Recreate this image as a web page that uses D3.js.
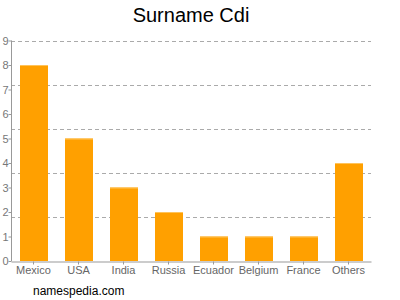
<!DOCTYPE html>
<html>
<head>
<meta charset="utf-8">
<script src="https://cdn.jsdelivr.net/npm/d3@7"></script>
<style>
  body { margin: 0; background: #fff; }
  svg { font-family: "Liberation Sans", Arial, sans-serif; }
</style>
</head>
<body>
<svg id="chart" width="400" height="300"></svg>
<script>
const countries = ["Mexico", "USA", "India", "Russia", "Ecuador", "Belgium", "France", "Others"];
const counts = [8, 5, 3, 2, 1, 1, 1, 4];
const yTicks = [0, 1, 2, 3, 4, 5, 6, 7, 8, 9];
const gridValues = [1.8, 3.6, 5.4, 7.2, 9];

const plotLeft = 11, plotRight = 371, plotTop = 40.5, plotBottom = 261;
const svg = d3.select("#chart");

const x = d3.scaleBand()
    .domain(countries)
    .range([plotLeft, plotRight])
    .paddingInner(0.38)
    .paddingOuter(0.19);

const y = d3.scaleLinear()
    .domain([0, 9])
    .range([plotBottom, plotTop]);

// dashed grid
svg.append("g")
    .selectAll("line")
    .data(gridValues)
    .join("line")
    .attr("x1", plotLeft)
    .attr("x2", plotRight)
    .attr("y1", d => Math.round(y(d)) + 0.5)
    .attr("y2", d => Math.round(y(d)) + 0.5)
    .attr("stroke", "#aaa")
    .attr("stroke-dasharray", "4,3");

// bars
const bars = svg.append("g")
    .selectAll("g")
    .data(countries)
    .join("g");

bars.append("rect")
    .attr("x", d => Math.round(x(d)))
    .attr("y", (d, i) => y(counts[i]))
    .attr("width", Math.round(x.bandwidth()))
    .attr("height", (d, i) => plotBottom - y(counts[i]))
    .attr("fill", "#ffa000");

bars.append("rect")
    .attr("x", d => Math.round(x(d)))
    .attr("y", (d, i) => y(counts[i]))
    .attr("width", Math.round(x.bandwidth()))
    .attr("height", 1)
    .attr("fill", "#ffc35a");

// y axis
const yAxis = svg.append("g")
    .attr("transform", `translate(${plotLeft + 0.5},0)`)
    .call(d3.axisLeft(y).tickValues(yTicks).tickSize(3).tickFormat(d3.format("d")));
yAxis.select(".domain").attr("stroke", "#999").attr("d", `M0,${plotTop}V${plotBottom}`);
yAxis.selectAll(".tick line").attr("stroke", "#999");
yAxis.selectAll(".tick text")
    .attr("x", -3)
    .attr("fill", "#777")
    .attr("font-size", 11)
    .attr("font-family", "Liberation Sans, Arial, sans-serif");

// x axis
const xAxis = svg.append("g")
    .attr("transform", `translate(0,${plotBottom + 0.5})`)
    .call(d3.axisBottom(x).tickSize(3).tickSizeOuter(0));
xAxis.select(".domain").attr("stroke", "#999");
xAxis.selectAll(".tick line").attr("stroke", "#999");
xAxis.selectAll(".tick text")
    .attr("y", 5)
    .attr("fill", "#666")
    .attr("font-size", 11)
    .attr("font-family", "Liberation Sans, Arial, sans-serif");

// title
svg.append("text")
    .attr("x", 191)
    .attr("y", 22)
    .attr("text-anchor", "middle")
    .attr("font-size", 20)
    .attr("fill", "#000")
    .text("Surname Cdi");

// footer
svg.append("text")
    .attr("x", 33)
    .attr("y", 295)
    .attr("font-size", 12)
    .attr("fill", "#000")
    .text("namespedia.com");
</script>
</body>
</html>
